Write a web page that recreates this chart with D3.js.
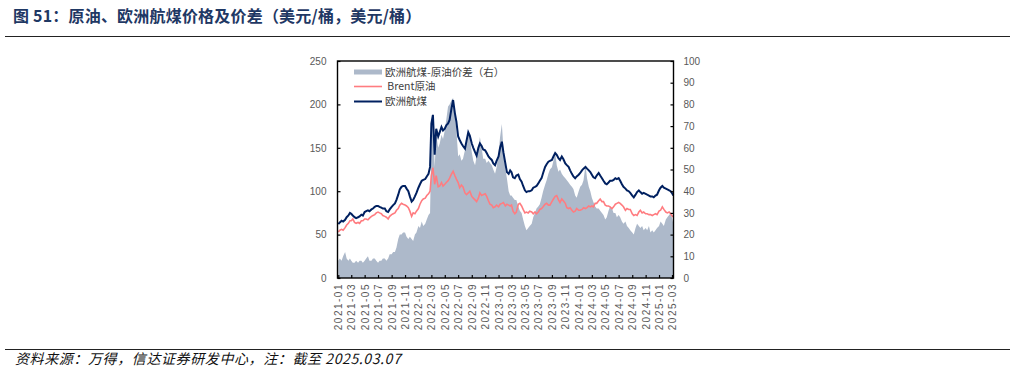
<!DOCTYPE html>
<meta charset="utf-8">
<head>
  <meta charset="utf-8">
  <title>原油、欧洲航煤价格及价差</title>
  <script src="https://cdn.jsdelivr.net/npm/d3@7"></script>
</head>

<style>
body {margin:0; background:#fff;}
.tick text {
  font-family: "Liberation Sans", Arial, sans-serif;
  font-size: 10px;
  fill: #595959;
}
.legend text {
  font-family: "Noto Sans CJK SC", sans-serif;
  font-size: 10.5px;
  fill: #404040;
}
</style>

<body>
<script>

// sample days inside each month (roughly weekly), last month only up to 03-07
var sampleDays = [1, 8, 16, 23];
var lastDays = [3, 7];

// 欧洲航煤 (USD/bbl, left axis)
var jet = [
  62,64,66,65, 67,70,72,75, 74,72,70,69,
  70,71,73,72, 76,77,78,77, 79,80,82,83,
  83,82,81,80, 80,77,76,79, 82,84,86,90,
  96,102,105,106, 106,103,100,94, 88,90,94,98,
  104,108,112,113, 114,117,120,128, 178,188,142,172,
  163,168,174,170, 172,176,178,182, 196,205,190,180,
  163,159,155,152, 149,158,168,164, 155,150,145,141,
  150,155,152,148, 147,144,140,138, 136,132,130,135,
  140,150,157,145, 132,122,120,124, 122,116,115,118,
  119,114,111,106, 101,99,100,100, 101,104,105,106,
  109,112,115,121, 128,131,134,135, 136,140,144,142,
  138,136,140,137, 132,130,128,124, 120,117,115,117,
  119,121,124,126, 128,126,124,122, 119,116,115,118,
  121,118,115,112, 109,108,110,112, 112,113,115,114,
  115,112,108,105, 103,101,100,98, 95,93,96,99,
  101,99,97,98, 97,96,95,94, 94,93,95,96,
  101,104,106,104, 103,102,101,100, 97,95
];

// Brent原油 (USD/bbl, left axis)
var brent = [
  53,55,56,55, 58,61,63,66, 66,68,64,63,
  64,63,66,66, 68,68,67,69, 71,72,73,75,
  76,75,74,72, 71,70,68,71, 73,74,75,78,
  80,84,86,85, 84,83,81,77, 71,75,74,77,
  80,85,89,91, 92,95,97,100, 118,127,108,118,
  105,106,110,106, 108,110,112,115, 120,123,118,114,
  110,104,107,105, 98,96,98,100, 94,92,90,88,
  92,98,95,96, 97,94,89,85, 84,81,82,84,
  82,85,86,87, 83,85,84,83, 84,77,74,76,
  85,86,83,79, 75,76,75,77, 76,74,76,74,
  76,79,80,82, 85,86,84,84, 88,91,94,95,
  90,87,91,89, 86,81,80,81, 78,76,77,80,
  78,78,79,81, 80,81,83,82, 83,82,86,86,
  89,91,88,88, 84,83,83,82, 80,82,85,86,
  87,86,84,82, 78,80,79,79, 74,72,73,72,
  76,78,75,76, 74,74,73,73, 72,73,74,73,
  77,78,82,79, 76,75,76,74, 71,71
];

// 欧洲航煤-原油价差 (USD/bbl, right axis)
var spread = [
  8,9,8,10, 12,9,8,9, 8,7,7,8,
  7,8,8,7, 8,9,10,8, 8,9,9,8,
  7,8,8,9, 9,8,9,11, 11,12,12,14,
  18,20,20,21, 21,19,18,19, 18,17,20,21,
  24,23,26,24, 25,27,29,30, 62,76,51,66,
  60,62,66,64, 68,73,79,80, 82,83,75,68,
  56,57,54,55, 59,63,68,65, 58,54,52,56,
  60,65,60,55, 55,53,54,53, 52,50,48,51,
  58,65,71,60, 50,46,40,38, 38,37,36,36,
  33,31,30,27, 24,22,23,24, 25,28,30,32,
  33,34,37,40, 43,45,48,50, 51,54,58,52,
  49,50,48,47, 46,45,44,43, 42,41,38,37,
  40,42,43,45, 52,46,42,40, 37,35,33,32,
  32,31,30,29, 27,28,31,33, 32,30,30,28,
  29,28,26,25, 26,24,23,22, 21,20,23,25,
  24,23,24,22, 23,22,24,21, 22,21,22,23,
  24,26,25,24, 27,28,29,30, 27,25
];

var leftTicks = [0, 50, 100, 150, 200, 250];
var rightTicks = [0, 10, 20, 30, 40, 50, 60, 70, 80, 90, 100];
var legendNames = ["欧洲航煤-原油价差（右）", " Brent原油", "欧洲航煤"];

// build the dates
var dates = [];
d3.timeMonths(new Date(2021, 0, 1), new Date(2025, 2, 1)).forEach(function(m) {
  sampleDays.forEach(function(d) { dates.push(new Date(m.getFullYear(), m.getMonth(), d)); });
});
lastDays.forEach(function(d) { dates.push(new Date(2025, 2, d)); });

var data = dates.map(function(d, i) {
  return {date: d, jet: jet[i], brent: brent[i], spread: spread[i]};
});

var W = 1015, H = 368;
var plot = {left: 337.5, right: 673.5, top: 61, bottom: 278};

var svg = d3.select("body").append("svg")
    .attr("width", W)
    .attr("height", H);

// title + rules
svg.append("text")
    .attr("x", 13)
    .attr("y", 22)
    .style("font-family", "'Noto Sans CJK SC', sans-serif")
    .style("font-size", "16px")
    .style("font-weight", "bold")
    .style("letter-spacing", "0.2px")
    .style("fill", "#1f3864")
    .text("图 51：原油、欧洲航煤价格及价差（美元/桶，美元/桶）");

svg.append("line")
    .attr("x1", 5).attr("x2", 1010)
    .attr("y1", 36.5).attr("y2", 36.5)
    .style("stroke", "#222").style("stroke-width", 1.2);

svg.append("line")
    .attr("x1", 5).attr("x2", 1010)
    .attr("y1", 349.5).attr("y2", 349.5)
    .style("stroke", "#222").style("stroke-width", 1.2);

svg.append("text")
    .attr("x", 15)
    .attr("y", 364)
    .style("font-family", "'Noto Sans CJK SC', sans-serif")
    .style("font-size", "14px")
    .style("font-style", "italic")
    .style("letter-spacing", "0.6px")
    .style("fill", "#111")
    .text("资料来源：万得，信达证券研发中心，注：截至 2025.03.07");

// scales
var x = d3.scaleTime()
    .domain([new Date(2021, 0, 1), new Date(2025, 2, 7)])
    .range([338.3, 673.3]);

var yL = d3.scaleLinear().domain([0, 250]).range([plot.bottom, plot.top]);
var yR = d3.scaleLinear().domain([0, 100]).range([plot.bottom, plot.top]);

// spread area (right axis)
var area = d3.area()
    .x(function(d) { return x(d.date); })
    .y0(yR(0))
    .y1(function(d) { return yR(d.spread); });

svg.append("path")
    .datum(data)
    .attr("d", area)
    .style("fill", "#adb9ca");

var brentLine = d3.line()
    .x(function(d) { return x(d.date); })
    .y(function(d) { return yL(d.brent); });

var jetLine = d3.line()
    .x(function(d) { return x(d.date); })
    .y(function(d) { return yL(d.jet); });

svg.append("path")
    .datum(data)
    .attr("d", brentLine)
    .style("fill", "none")
    .style("stroke", "#ff7c80")
    .style("stroke-width", 1.6);

svg.append("path")
    .datum(data)
    .attr("d", jetLine)
    .style("fill", "none")
    .style("stroke", "#002060")
    .style("stroke-width", 2);

// axes
var gL = svg.append("g")
    .attr("transform", "translate(" + plot.left + ",0)")
    .call(d3.axisLeft(yL).tickValues(leftTicks).tickSizeInner(-3).tickSizeOuter(0).tickPadding(11));

var gR = svg.append("g")
    .attr("transform", "translate(" + plot.right + ",0)")
    .call(d3.axisRight(yR).tickValues(rightTicks).tickSizeInner(-3).tickSizeOuter(0).tickPadding(10));

var xTicks = d3.timeMonth.every(2).range(new Date(2021, 0, 1), new Date(2025, 2, 2));

var gX = svg.append("g")
    .attr("transform", "translate(0," + plot.bottom + ")")
    .call(d3.axisBottom(x).tickValues(xTicks).tickFormat(d3.timeFormat("%Y-%m"))
      .tickSizeInner(-3).tickSizeOuter(0));

gX.selectAll(".tick text")
    .attr("transform", "rotate(-90)")
    .attr("x", -5)
    .attr("y", 0)
    .attr("dy", "0.35em")
    .style("text-anchor", "end")
    .style("letter-spacing", "1.5px");

[gL, gR, gX].forEach(function(g) {
  g.select(".domain").remove();
  g.selectAll(".tick line").style("stroke", "#000").style("stroke-width", 1.2);
});

// frame
svg.append("rect")
    .attr("x", plot.left)
    .attr("y", plot.top)
    .attr("width", plot.right - plot.left)
    .attr("height", plot.bottom - plot.top)
    .style("fill", "none")
    .style("stroke", "#000")
    .style("stroke-width", 1.4);

// legend
var legend = svg.append("g").attr("class", "legend");
var ly = [72, 86.5, 101.5];

legend.append("rect")
    .attr("x", 354).attr("y", ly[0] - 2.5)
    .attr("width", 28).attr("height", 5)
    .style("fill", "#adb9ca");

legend.append("line")
    .attr("x1", 354).attr("x2", 382)
    .attr("y1", ly[1]).attr("y2", ly[1])
    .style("stroke", "#ff7c80").style("stroke-width", 1.6);

legend.append("line")
    .attr("x1", 354).attr("x2", 382)
    .attr("y1", ly[2]).attr("y2", ly[2])
    .style("stroke", "#002060").style("stroke-width", 2);

legend.selectAll("text")
    .data(legendNames)
    .enter().append("text")
    .attr("x", 385)
    .attr("y", function(d, i) { return ly[i]; })
    .attr("dy", "0.35em")
    .style("white-space", "pre")
    .attr("xml:space", "preserve")
    .text(function(d) { return d; });

</script>
</body>
